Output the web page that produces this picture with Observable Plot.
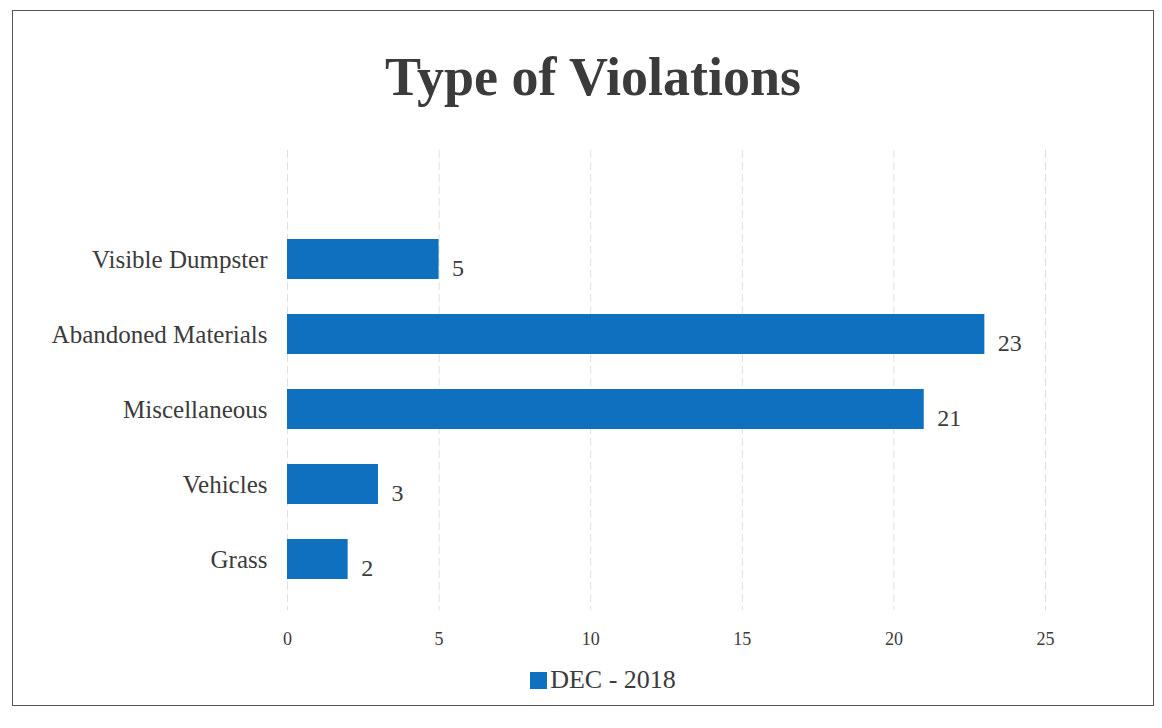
<!DOCTYPE html>
<html>
<head>
<meta charset="utf-8">
<script src="https://cdn.jsdelivr.net/npm/d3@7"></script>
<script src="https://cdn.jsdelivr.net/npm/@observablehq/plot@0.6"></script>
<style>
  html, body { margin: 0; padding: 0; background: #fff; }
  #page { position: relative; width: 1162px; height: 728px; overflow: hidden; font-family: "Liberation Serif", "DejaVu Serif", serif; }
  #frame { position: absolute; left: 12px; top: 10px; width: 1142px; height: 696px; border: 1.5px solid #555; box-sizing: border-box; }
  #title { position: absolute; left: 12px; width: 1162px; top: 50px; text-align: center; font-size: 54px; font-weight: bold; color: #3b3b3b; line-height: 1; }
  #chart { position: absolute; left: 0; top: 140px; }
  #legend { position: absolute; top: 665px; left: 22px; width: 1162px; display: flex; justify-content: center; align-items: center; font-size: 26px; color: #3b3b3b; }
  #legend .sw { width: 17px; height: 17px; background: #1070c0; margin-right: 3px; }
</style>
</head>
<body>
<div id="page">
  <div id="frame"></div>
  <div id="title">Type of Violations</div>
  <div id="chart"></div>
  <div id="legend"><span class="sw"></span><span>DEC - 2018</span></div>
</div>
<script>
const categories = ["Visible Dumpster", "Abandoned Materials", "Miscellaneous", "Vehicles", "Grass"];
const values = [5, 23, 21, 3, 2];
const xTicks = [0, 5, 10, 15, 20, 25];
const seriesName = "DEC - 2018";

const data = categories.map((c, i) => ({category: c, value: values[i]}));

const chart = Plot.plot({
  width: 1162,
  height: 520,
  marginLeft: 287,
  marginRight: 117,
  marginTop: 10,
  marginBottom: 50,
  style: {fontFamily: "'Liberation Serif', 'DejaVu Serif', serif", color: "#3b3b3b", background: "transparent"},
  x: {domain: [0, 25], ticks: xTicks, label: null, tickSize: 0, tickPadding: 20, tickFormat: d => String(d)},
  y: {domain: categories, range: [81, 456], paddingInner: 0.467, paddingOuter: 0.233, label: null, tickSize: 0, tickPadding: 20},
  marks: [
    Plot.ruleX(xTicks, {stroke: "#e0e0e0", strokeWidth: 1, strokeDasharray: "8,4"}),
    Plot.barX(data, {x: "value", y: "category", fill: "#1070c0"}),
    Plot.text(data, {x: "value", y: "category", text: d => String(d.value), textAnchor: "start", dx: 13, dy: 9, fontSize: 24, fill: "#3b3b3b"}),
    Plot.axisX({ticks: xTicks, tickSize: 0, tickPadding: 22, fontSize: 18, label: null, tickFormat: d => String(d)}),
    Plot.axisY({tickSize: 0, tickPadding: 20, fontSize: 25, fontWeight: 500, label: null})
  ]
});
chart.querySelectorAll("text").forEach(t => t.style.fill = "#3b3b3b");
document.getElementById("chart").appendChild(chart);
</script>
</body>
</html>
